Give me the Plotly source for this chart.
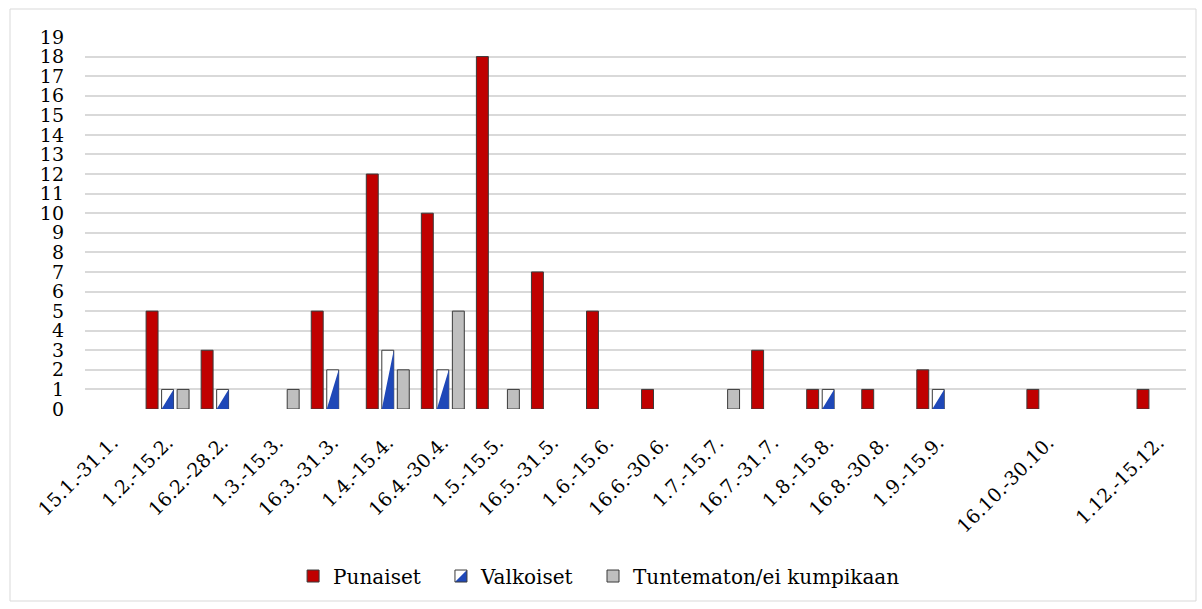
import plotly.graph_objects as go

categories = ["15.1.-31.1.", "1.2.-15.2.", "16.2.-28.2.", "1.3.-15.3.", "16.3.-31.3.",
              "1.4.-15.4.", "16.4.-30.4.", "1.5.-15.5.", "16.5.-31.5.", "1.6.-15.6.",
              "16.6.-30.6.", "1.7.-15.7.", "16.7.-31.7.", "1.8.-15.8.", "16.8.-30.8.",
              "1.9.-15.9.", "", "16.10.-30.10.", "", "1.12.-15.12."]
punaiset = [0, 5, 3, 0, 5, 12, 10, 18, 7, 5, 1, 0, 3, 1, 1, 2, 0, 1, 0, 1]
valkoiset = [0, 1, 1, 0, 2, 3, 2, 0, 0, 0, 0, 0, 0, 1, 0, 1, 0, 0, 0, 0]
tuntematon = [0, 1, 0, 1, 0, 2, 5, 1, 0, 0, 0, 1, 0, 0, 0, 0, 0, 0, 0, 0]
y_ticks = list(range(0, 20))

FONT = "DejaVu Serif, Liberation Serif, serif"
RED = "#C00000"
BLUE = "#1F48B8"
GRAY = "#BFBFBF"
OUTLINE = "#3a3a3a"

BARGAP = 0.155
BARGROUPGAP = 0.23
n_series = 3
bar_w = (1 - BARGAP) / n_series * (1 - BARGROUPGAP)

xs = list(range(len(categories)))

# layout geometry (px)
W, H = 1202, 609
ML, MR, MT, MB = 85, 16, 37, 200
PW, PH = W - ML - MR, H - MT - MB
LEG_X = [0.189, 0.3233, 0.4614]
LEG_Y = -0.449


def nz(vals):
    # zero-height bars are not drawn (no outline stub)
    return [v if v else None for v in vals]


fig = go.Figure()
fig.add_trace(go.Bar(x=xs, y=nz(punaiset), name="Punaiset", legend="legend",
                     marker=dict(color=RED, line=dict(color=OUTLINE, width=1))))
fig.add_trace(go.Bar(x=xs, y=nz(valkoiset), name="Valkoiset", showlegend=False,
                     marker=dict(color="white", line=dict(color=OUTLINE, width=1))))
fig.add_trace(go.Bar(x=xs, y=nz(tuntematon), name="Tuntematon/ei kumpikaan", legend="legend3",
                     marker=dict(color=GRAY, line=dict(color=OUTLINE, width=1))))

# blue lower-right triangles inside the Valkoiset bars (middle bar is centred on the category)
tx, ty = [], []
for x, v in zip(xs, valkoiset):
    if v > 0:
        xl, xr = x - bar_w / 2, x + bar_w / 2
        tx += [xl, xr, xr, xl, None]
        ty += [0, 0, v, 0, None]
fig.add_trace(go.Scatter(x=tx, y=ty, mode="lines", fill="toself", fillcolor=BLUE,
                         line=dict(width=0, color=BLUE), showlegend=False, hoverinfo="skip"))

# legend entry for Valkoiset: transparent outlined square, blue half drawn beneath it
fig.add_trace(go.Scatter(x=[None], y=[None], mode="markers", name="Valkoiset",
                         legend="legend2", showlegend=True, hoverinfo="skip",
                         marker=dict(symbol="square", size=12, color="rgba(0,0,0,0)",
                                     line=dict(color=OUTLINE, width=1))))

legend_common = dict(orientation="h", xanchor="left", y=LEG_Y, yanchor="middle",
                     font=dict(family=FONT, size=20), bgcolor="rgba(0,0,0,0)")

kx = ML + LEG_X[1] * PW + 20
ky = MT + PH + (-LEG_Y) * PH


def px(v):
    return (v - ML) / PW


def py(v):
    return (MT + PH - v) / PH


tri = (f"M {px(kx - 6)} {py(ky + 6)} L {px(kx + 6)} {py(ky + 6)} "
       f"L {px(kx + 6)} {py(ky - 6)} Z")

fig.update_layout(
    width=W, height=H,
    margin=dict(l=ML, r=MR, t=MT, b=MB),
    plot_bgcolor="white", paper_bgcolor="white",
    barmode="group", bargap=BARGAP, bargroupgap=BARGROUPGAP,
    font=dict(family=FONT, size=19, color="black"),
    showlegend=True,
    legend=dict(x=LEG_X[0], **legend_common),
    legend2=dict(x=LEG_X[1], **legend_common),
    legend3=dict(x=LEG_X[2], **legend_common),
    xaxis=dict(range=[-0.5, len(categories) - 0.5], tickmode="array", tickvals=xs,
               ticktext=categories, tickangle=-45, showgrid=False, zeroline=False,
               showline=False, ticks="outside", ticklen=14, tickcolor="rgba(0,0,0,0)",
               automargin=False, tickfont=dict(family=FONT, size=19)),
    yaxis=dict(range=[0, 19], tickmode="array", tickvals=y_ticks,
               ticktext=[str(t) for t in y_ticks], showgrid=True, gridcolor="#D9D9D9",
               gridwidth=2, zeroline=False, showline=False, ticks="", automargin=False,
               ticklabelstandoff=20, tickfont=dict(family=FONT, size=19)),
    shapes=[dict(type="rect", xref="paper", yref="paper",
                 x0=px(10), x1=px(1196), y0=py(601), y1=py(9),
                 line=dict(color="#D9D9D9", width=1), layer="below"),
            dict(type="path", xref="paper", yref="paper", path=tri,
                 fillcolor=BLUE, line=dict(width=0), layer="above")],
)

fig.write_html("out.html", config={"displayModeBar": False},
               post_script="document.body.style.margin='0';")
